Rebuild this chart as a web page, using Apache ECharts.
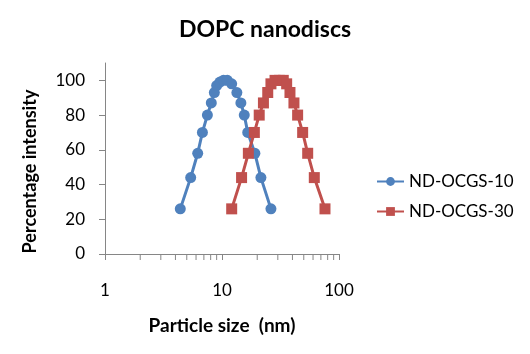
<!DOCTYPE html>
<html>
<head>
<meta charset="utf-8">
<script src="https://cdn.jsdelivr.net/npm/echarts@6/dist/echarts.min.js"></script>
<style>
  html, body { margin: 0; padding: 0; background: #fff; }
  #chart { width: 530px; height: 354px; }
</style>
</head>
<body>
<div id="chart"></div>
<script>
// particle size (nm) / intensity (%)
const sizes10 = [4.4, 5.4, 6.2, 6.8, 7.5, 8.1, 8.6, 9.0, 9.6, 10.3, 11.1, 12.1, 13.4, 14.5, 15.5, 16.6, 19.1, 21.5, 26.2]
const intensity10 = [26, 44, 58, 70, 80, 87, 93, 97, 99, 100, 100, 98, 93, 87, 80, 70, 58, 44, 26]
const sizes30 = [12.1, 14.7, 16.8, 18.9, 20.8, 22.6, 24.6, 26.2, 28.4, 30.9, 33.4, 35.7, 38.1, 41.2, 44.3, 48.9, 54, 61.5, 75.9]
const intensity30 = [26, 44, 58, 70, 80, 87, 93, 98, 100, 100, 100, 98, 93, 87, 80, 70, 58, 44, 26]
const yTicks = [0, 20, 40, 60, 80, 100]
const minorX = [2, 3, 4, 5, 6, 7, 8, 9, 20, 30, 40, 50, 60, 70, 80, 90]

const font = 'Lato'
const axisColor = '#868686'

const chart = echarts.init(document.getElementById('chart'))

const pair = (xs, ys) => xs.map((x, i) => [x, ys[i]])

const option = {
  animation: false,
  title: {
    text: 'DOPC nanodiscs',
    left: 'center',
    top: 13,
    textStyle: { fontFamily: font, fontSize: 23, fontWeight: 'bold', color: '#000' }
  },
  legend: {
    orient: 'vertical',
    left: 371,
    top: 168,
    itemWidth: 27,
    itemHeight: 11,
    itemGap: 13,
    data: ['ND-OCGS-10', 'ND-OCGS-30'],
    textStyle: { fontFamily: font, fontSize: 17, color: '#000' }
  },
  grid: { left: 105, right: 191, top: 63, bottom: 100 },
  xAxis: {
    type: 'log',
    logBase: 10,
    min: 1,
    max: 100,
    name: 'Particle size  (nm)',
    nameLocation: 'middle',
    nameGap: 62,
    nameTextStyle: { fontFamily: font, fontSize: 19, fontWeight: 'bold', color: '#000' },
    axisLine: { lineStyle: { color: axisColor, width: 1 } },
    axisTick: { length: 6, lineStyle: { color: axisColor } },
    axisLabel: { margin: 28, fontFamily: font, fontSize: 17, color: '#000' },
    splitLine: { show: false },
    minorTick: { show: false }
  },
  yAxis: {
    type: 'value',
    min: 0,
    max: 110,
    name: 'Percentage intensity',
    nameLocation: 'middle',
    nameGap: 66,
    nameTextStyle: { fontFamily: font, fontSize: 18, fontWeight: 'bold', color: '#000', padding: [0, 0, 0, -26] },
    axisLine: { show: true, lineStyle: { color: axisColor, width: 1 } },
    axisTick: { show: true, length: 6, customValues: yTicks, lineStyle: { color: axisColor } },
    axisLabel: { margin: 20, customValues: yTicks, fontFamily: font, fontSize: 17, color: '#000' },
    splitLine: { show: false }
  },
  series: [
    {
      name: 'ND-OCGS-10',
      type: 'line',
      data: pair(sizes10, intensity10),
      symbol: 'circle',
      symbolSize: 11,
      itemStyle: { color: '#4f81bd' },
      lineStyle: { color: '#4f81bd', width: 3 }
    },
    {
      name: 'ND-OCGS-30',
      type: 'line',
      data: pair(sizes30, intensity30),
      symbol: 'rect',
      symbolSize: 11,
      itemStyle: { color: '#c0504d' },
      lineStyle: { color: '#c0504d', width: 3 }
    },
    {
      // minor ticks at 2..9 of each decade
      type: 'custom',
      silent: true,
      clip: false,
      data: minorX.map(v => [v, 0]),
      renderItem: (params, api) => {
        const p = api.coord([api.value(0), 0])
        return {
          type: 'line',
          shape: { x1: p[0], y1: p[1], x2: p[0], y2: p[1] + 6 },
          style: { stroke: axisColor, lineWidth: 1 }
        }
      }
    }
  ]
}

chart.setOption(option)
</script>
</body>
</html>
